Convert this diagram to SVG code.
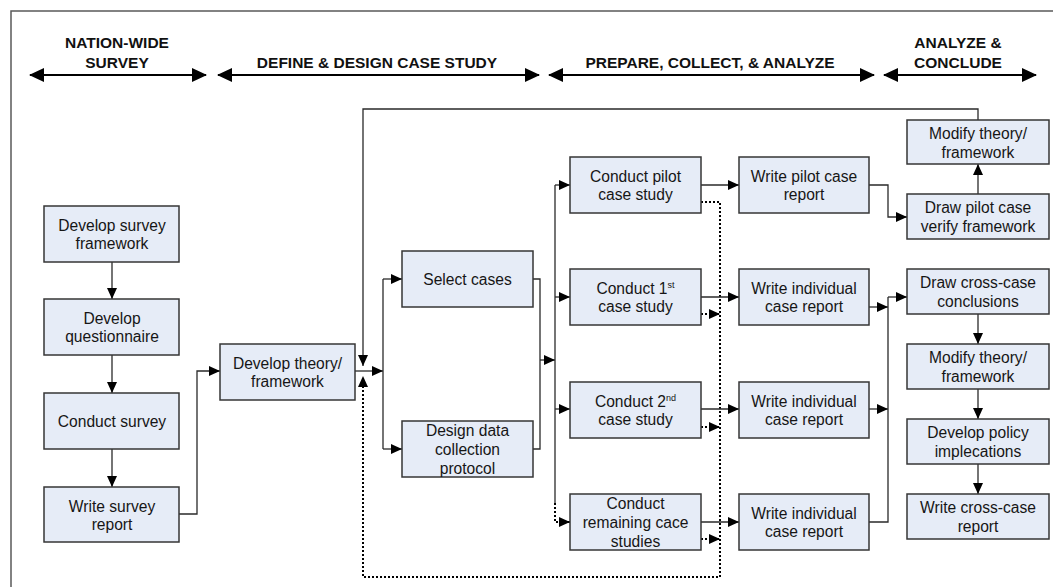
<svg xmlns="http://www.w3.org/2000/svg" width="1053" height="587" viewBox="0 0 1053 587">
  <style>
    .frame { fill: none; stroke: #5a5a5a; stroke-width: 1.5; }
    .box { fill: #e6ecf7; stroke: #363636; stroke-width: 1.5; }
    .lbl { font-family: "Liberation Sans", Arial, sans-serif; font-size: 15.6px; fill: #161616; text-anchor: middle; }
    .sup { font-size: 9px; }
    .hdr { font-family: "Liberation Sans", Arial, sans-serif; font-size: 15.5px; font-weight: bold; fill: #111; text-anchor: middle; }
    .span { fill: none; stroke: #000; stroke-width: 2.2; marker-start: url(#bigHead); marker-end: url(#bigHead); }
    .link { fill: none; stroke: #2a2a2a; stroke-width: 1.3; }
    .arrow { marker-end: url(#head); }
    .dots { fill: none; stroke: #000; stroke-width: 2; stroke-dasharray: 2 2; }
  </style>
  <defs>
    <marker id="head" markerUnits="userSpaceOnUse" markerWidth="11" markerHeight="10" refX="11" refY="5" orient="auto">
      <path d="M0,0 L11,5 L0,10 z" fill="#000"/>
    </marker>
    <marker id="bigHead" markerUnits="userSpaceOnUse" markerWidth="15" markerHeight="14" refX="14" refY="7" orient="auto-start-reverse">
      <path d="M0,0 L15,7 L0,14 z" fill="#000"/>
    </marker>
  </defs>

  <rect width="1053" height="587" fill="#fff"/>
  <path class="frame" d="M11,587 V11 H1053"/>

  <!-- phase headers -->
  <g id="phases">
    <text class="hdr" x="117" y="48">NATION-WIDE</text>
    <text class="hdr" x="117" y="68">SURVEY</text>
    <path class="span" d="M30,75 H206"/>
    <text class="hdr" x="377" y="68">DEFINE &amp; DESIGN CASE STUDY</text>
    <path class="span" d="M218,75 H539"/>
    <text class="hdr" x="710" y="68">PREPARE, COLLECT, &amp; ANALYZE</text>
    <path class="span" d="M549,75 H874"/>
    <text class="hdr" x="958" y="48">ANALYZE &amp;</text>
    <text class="hdr" x="958" y="68">CONCLUDE</text>
    <path class="span" d="M884,75 H1036"/>
  </g>

  <!-- connectors -->
  <g id="connectors">
    <path class="link arrow" d="M112,262 V299"/>
    <path class="link arrow" d="M112,355 V393"/>
    <path class="link arrow" d="M112,449 V487"/>
    <path class="link arrow" d="M179,514 H197 V371 H220"/>
    <path class="link arrow" d="M355,371 H383"/>
    <path class="link" d="M383,279 V449"/>
    <path class="link arrow" d="M383,279 H402"/>
    <path class="link arrow" d="M383,449 H402"/>
    <path class="link arrow" d="M978,120 V109 H363 V366"/>
    <path class="dots arrow" d="M701,202 H720 V577 H363 V376"/>
    <path class="link" d="M533,279 H540 V449 H533"/>
    <path class="link arrow" d="M540,360 H555"/>
    <path class="link" d="M555,185 V503"/>
    <path class="dots arrow" d="M555,503 V522 H570"/>
    <path class="link arrow" d="M555,185 H570"/>
    <path class="link arrow" d="M555,297 H570"/>
    <path class="link arrow" d="M555,409 H570"/>
    <path class="link arrow" d="M701,185 H739"/>
    <path class="link arrow" d="M701,297 H739"/>
    <path class="link arrow" d="M701,409 H739"/>
    <path class="link arrow" d="M701,522 H739"/>
    <path class="dots arrow" d="M701,314 H720"/>
    <path class="dots arrow" d="M701,427 H720"/>
    <path class="dots arrow" d="M701,539 H720"/>
    <path class="link arrow" d="M869,185 H888 V217 H907"/>
    <path class="link arrow" d="M978,194 V164"/>
    <path class="link arrow" d="M869,307 H888"/>
    <path class="link arrow" d="M869,409 H888"/>
    <path class="link" d="M869,522 H888 V297"/>
    <path class="link arrow" d="M888,297 H907"/>
    <path class="link arrow" d="M978,314 V344"/>
    <path class="link arrow" d="M978,389 V419"/>
    <path class="link arrow" d="M978,464 V494"/>
  </g>

  <!-- survey phase -->
  <g id="survey-framework">
    <rect class="box" x="44" y="206" width="135" height="56"/>
    <text class="lbl" x="112" y="231">Develop survey</text>
    <text class="lbl" x="112" y="249">framework</text>
  </g>
  <g id="questionnaire">
    <rect class="box" x="44" y="299" width="135" height="56"/>
    <text class="lbl" x="112" y="324">Develop</text>
    <text class="lbl" x="112" y="342">questionnaire</text>
  </g>
  <g id="conduct-survey">
    <rect class="box" x="44" y="393" width="135" height="56"/>
    <text class="lbl" x="112" y="426.5">Conduct survey</text>
  </g>
  <g id="survey-report">
    <rect class="box" x="44" y="487" width="135" height="55"/>
    <text class="lbl" x="112" y="511.5">Write survey</text>
    <text class="lbl" x="112" y="529.5">report</text>
  </g>

  <!-- define & design -->
  <g id="theory">
    <rect class="box" x="220" y="344" width="135" height="56"/>
    <text class="lbl" x="287.5" y="369">Develop theory/</text>
    <text class="lbl" x="287.5" y="387">framework</text>
  </g>
  <g id="select-cases">
    <rect class="box" x="402" y="251" width="131" height="56"/>
    <text class="lbl" x="467.5" y="284.5">Select cases</text>
  </g>
  <g id="protocol">
    <rect class="box" x="402" y="421" width="131" height="56"/>
    <text class="lbl" x="467.5" y="435.5">Design data</text>
    <text class="lbl" x="467.5" y="454.5">collection</text>
    <text class="lbl" x="467.5" y="473.5">protocol</text>
  </g>

  <!-- prepare, collect & analyze -->
  <g id="pilot-study">
    <rect class="box" x="570" y="157" width="131" height="56"/>
    <text class="lbl" x="635.5" y="182">Conduct pilot</text>
    <text class="lbl" x="635.5" y="200">case study</text>
  </g>
  <g id="study-1">
    <rect class="box" x="570" y="269" width="131" height="56"/>
    <text class="lbl" x="635.5" y="294">Conduct 1<tspan class="sup" dy="-6">st</tspan></text>
    <text class="lbl" x="635.5" y="312">case study</text>
  </g>
  <g id="study-2">
    <rect class="box" x="570" y="382" width="131" height="56"/>
    <text class="lbl" x="635.5" y="406.5">Conduct 2<tspan class="sup" dy="-6">nd</tspan></text>
    <text class="lbl" x="635.5" y="424.5">case study</text>
  </g>
  <g id="study-rest">
    <rect class="box" x="570" y="494" width="131" height="56"/>
    <text class="lbl" x="635.5" y="508.5">Conduct</text>
    <text class="lbl" x="635.5" y="527.5">remaining cace</text>
    <text class="lbl" x="635.5" y="546.5">studies</text>
  </g>
  <g id="pilot-report">
    <rect class="box" x="739" y="157" width="130" height="56"/>
    <text class="lbl" x="804" y="182">Write pilot case</text>
    <text class="lbl" x="804" y="200">report</text>
  </g>
  <g id="report-1">
    <rect class="box" x="739" y="269" width="130" height="56"/>
    <text class="lbl" x="804" y="294">Write individual</text>
    <text class="lbl" x="804" y="312">case report</text>
  </g>
  <g id="report-2">
    <rect class="box" x="739" y="382" width="130" height="56"/>
    <text class="lbl" x="804" y="406.5">Write individual</text>
    <text class="lbl" x="804" y="424.5">case report</text>
  </g>
  <g id="report-3">
    <rect class="box" x="739" y="494" width="130" height="56"/>
    <text class="lbl" x="804" y="519">Write individual</text>
    <text class="lbl" x="804" y="537">case report</text>
  </g>

  <!-- analyze & conclude -->
  <g id="modify-pilot">
    <rect class="box" x="907" y="120" width="142" height="44"/>
    <text class="lbl" x="978" y="139">Modify theory/</text>
    <text class="lbl" x="978" y="157.5">framework</text>
  </g>
  <g id="verify">
    <rect class="box" x="907" y="194" width="142" height="45"/>
    <text class="lbl" x="978" y="213">Draw pilot case</text>
    <text class="lbl" x="978" y="231.5">verify framework</text>
  </g>
  <g id="cross-conclusions">
    <rect class="box" x="907" y="269" width="142" height="45"/>
    <text class="lbl" x="978" y="288">Draw cross-case</text>
    <text class="lbl" x="978" y="306.5">conclusions</text>
  </g>
  <g id="modify-cross">
    <rect class="box" x="907" y="344" width="142" height="45"/>
    <text class="lbl" x="978" y="363">Modify theory/</text>
    <text class="lbl" x="978" y="381.5">framework</text>
  </g>
  <g id="policy">
    <rect class="box" x="907" y="419" width="142" height="45"/>
    <text class="lbl" x="978" y="438">Develop policy</text>
    <text class="lbl" x="978" y="456.5">implecations</text>
  </g>
  <g id="cross-report">
    <rect class="box" x="907" y="494" width="142" height="45"/>
    <text class="lbl" x="978" y="513">Write cross-case</text>
    <text class="lbl" x="978" y="531.5">report</text>
  </g>
</svg>
